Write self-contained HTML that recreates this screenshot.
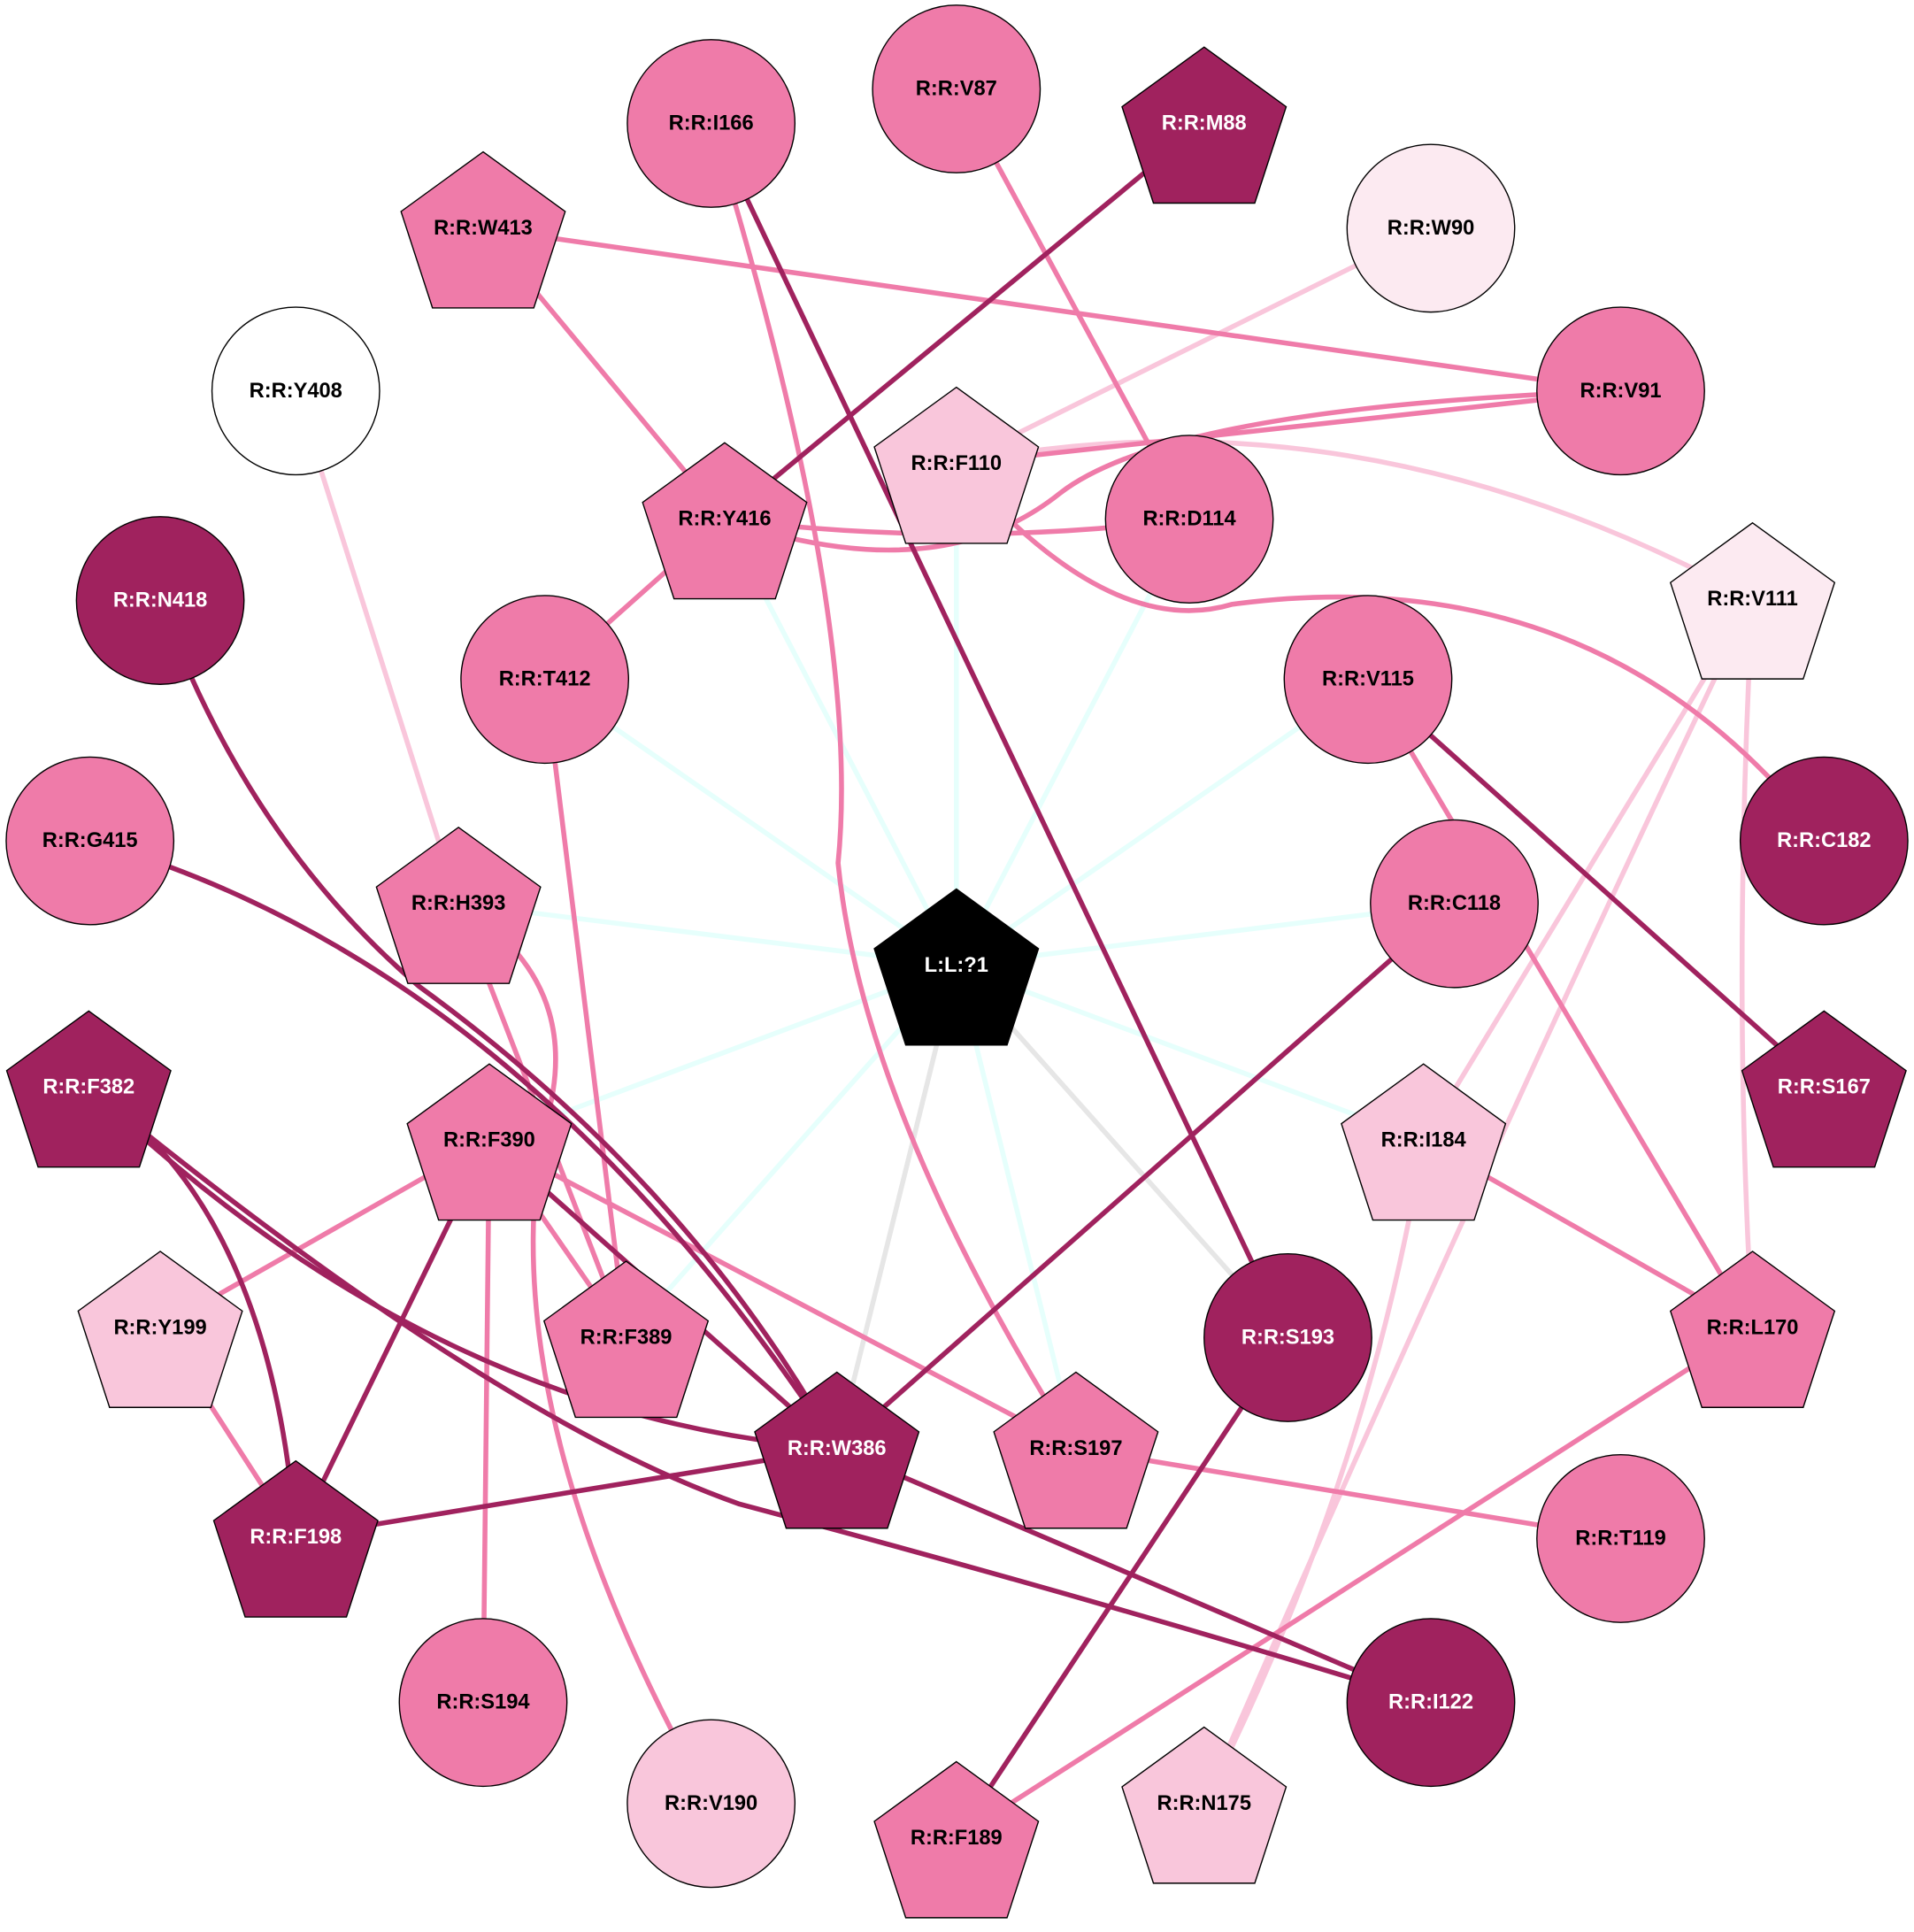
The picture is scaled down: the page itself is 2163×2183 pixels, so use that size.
<!DOCTYPE html>
<html><head><meta charset="utf-8"><style>html,body{margin:0;padding:0;background:#fff}svg{display:block}</style></head><body>
<svg width="2163" height="2183" viewBox="0 0 1553 1567" xmlns="http://www.w3.org/2000/svg" xmlns:xlink="http://www.w3.org/1999/xlink">
<defs>
<style>
text{font-family:"Liberation Sans",sans-serif;font-weight:bold;font-size:17px;text-anchor:middle;dominant-baseline:central}
.c{stroke:#000;stroke-width:1}
path,line{fill:none;stroke-width:4}
.cy{stroke:#E6FFFC;stroke-width:4}
.g{stroke:#E6E6E6}
.d{stroke:#A0225E}
.m{stroke:#EF7BA9}
.l{stroke:#F9C6DB}
</style>
<polygon id="p" points="0,-66 66.6,-17.6 41.1,60.6 -41.1,60.6 -66.6,-17.6" stroke="#000" stroke-width="1"/>
</defs>
<g class="cy">
<line x1="776" y1="783" x2="776" y2="376"/>
<line x1="776" y1="783" x2="588" y2="421"/>
<line x1="776" y1="783" x2="965" y2="421"/>
<line x1="776" y1="783" x2="442" y2="551"/>
<line x1="776" y1="783" x2="1110" y2="551"/>
<line x1="776" y1="783" x2="372" y2="733"/>
<line x1="776" y1="783" x2="1180" y2="733"/>
<line x1="776" y1="783" x2="397" y2="925"/>
<line x1="776" y1="783" x2="1155" y2="925"/>
<line x1="776" y1="783" x2="508" y2="1085"/>
<line x1="776" y1="783" x2="873" y2="1175"/>
</g>
<line class="g" x1="776" y1="783" x2="679" y2="1175"/>
<line class="g" x1="776" y1="783" x2="1045" y2="1085"/>
<line class="l" x1="1161" y1="185" x2="776" y2="376"/>
<path class="l" d="M776 376 Q1100 310 1422 486"/>
<line class="l" x1="240" y1="317" x2="372" y2="733"/>
<line class="l" x1="1422" y1="486" x2="1155" y2="925"/>
<path class="l" d="M1422 486 Q1200 950 977 1463"/>
<path class="l" d="M1422 486 Q1405 800 1422 1077"/>
<path class="l" d="M1155 925 Q1110 1200 977 1463"/>
<line class="m" x1="392" y1="185" x2="1315" y2="317"/>
<line class="m" x1="392" y1="185" x2="588" y2="421"/>
<line class="m" x1="776" y1="72" x2="965" y2="421"/>
<line class="m" x1="776" y1="376" x2="1315" y2="317"/>
<path class="m" d="M588 421 Q760 480 860 400 Q950 330 1315 317"/>
<path class="m" d="M588 421 Q780 445 965 421"/>
<path class="m" d="M776 376 Q900 520 1000 490 Q1300 450 1480 682"/>
<line class="m" x1="588" y1="421" x2="442" y2="551"/>
<path class="m" d="M577 100 Q700 500 680 700 Q700 900 873 1175"/>
<line class="m" x1="442" y1="551" x2="508" y2="1085"/>
<line class="m" x1="372" y1="733" x2="508" y2="1085"/>
<path class="m" d="M372 733 Q480 800 440 920 Q400 1150 577 1463"/>
<line class="m" x1="1110" y1="551" x2="1422" y2="1077"/>
<line class="m" x1="397" y1="925" x2="130" y2="1077"/>
<line class="m" x1="397" y1="925" x2="392" y2="1381"/>
<line class="m" x1="397" y1="925" x2="873" y2="1175"/>
<line class="m" x1="397" y1="925" x2="508" y2="1085"/>
<line class="m" x1="130" y1="1077" x2="240" y2="1247"/>
<line class="m" x1="873" y1="1175" x2="1315" y2="1248"/>
<line class="m" x1="1422" y1="1077" x2="776" y2="1491"/>
<line class="m" x1="1155" y1="925" x2="1422" y2="1077"/>
<line class="d" x1="977" y1="100" x2="588" y2="421"/>
<line class="d" x1="577" y1="100" x2="1045" y2="1085"/>
<path class="d" d="M130 487 Q200 680 340 800 Q560 960 679 1175"/>
<path class="d" d="M73 682 Q420 780 679 1175"/>
<line class="d" x1="1110" y1="551" x2="1480" y2="882"/>
<line class="d" x1="1180" y1="733" x2="679" y2="1175"/>
<path class="d" d="M72 882 Q350 1150 679 1175"/>
<path class="d" d="M72 882 Q400 1150 600 1220 Q900 1300 1161 1381"/>
<path class="d" d="M72 882 Q220 980 240 1247"/>
<line class="d" x1="397" y1="925" x2="240" y2="1247"/>
<line class="d" x1="397" y1="925" x2="679" y2="1175"/>
<line class="d" x1="679" y1="1175" x2="240" y2="1247"/>
<line class="d" x1="679" y1="1175" x2="1161" y2="1381"/>
<line class="d" x1="1045" y1="1085" x2="776" y2="1491"/>
<g class="c">
<circle cx="577" cy="100" r="68" fill="#EF7BA9"/>
<circle cx="776" cy="72" r="68" fill="#EF7BA9"/>
<circle cx="1161" cy="185" r="68" fill="#FCEAF1"/>
<circle cx="240" cy="317" r="68" fill="#FFFFFF"/>
<circle cx="1315" cy="317" r="68" fill="#EF7BA9"/>
<circle cx="965" cy="421" r="68" fill="#EF7BA9"/>
<circle cx="130" cy="487" r="68" fill="#A0225E"/>
<circle cx="442" cy="551" r="68" fill="#EF7BA9"/>
<circle cx="1110" cy="551" r="68" fill="#EF7BA9"/>
<circle cx="73" cy="682" r="68" fill="#EF7BA9"/>
<circle cx="1480" cy="682" r="68" fill="#A0225E"/>
<circle cx="1180" cy="733" r="68" fill="#EF7BA9"/>
<circle cx="1045" cy="1085" r="68" fill="#A0225E"/>
<circle cx="1315" cy="1248" r="68" fill="#EF7BA9"/>
<circle cx="392" cy="1381" r="68" fill="#EF7BA9"/>
<circle cx="1161" cy="1381" r="68" fill="#A0225E"/>
<circle cx="577" cy="1463" r="68" fill="#F9C6DB"/>
</g>
<use xlink:href="#p" href="#p" transform="translate(977,104)" fill="#A0225E"/>
<use xlink:href="#p" href="#p" transform="translate(392,189)" fill="#EF7BA9"/>
<use xlink:href="#p" href="#p" transform="translate(776,380)" fill="#F9C6DB"/>
<use xlink:href="#p" href="#p" transform="translate(588,425)" fill="#EF7BA9"/>
<use xlink:href="#p" href="#p" transform="translate(1422,490)" fill="#FCEAF1"/>
<use xlink:href="#p" href="#p" transform="translate(372,737)" fill="#EF7BA9"/>
<use xlink:href="#p" href="#p" transform="translate(776,787)" fill="#000000"/>
<use xlink:href="#p" href="#p" transform="translate(72,886)" fill="#A0225E"/>
<use xlink:href="#p" href="#p" transform="translate(1480,886)" fill="#A0225E"/>
<use xlink:href="#p" href="#p" transform="translate(397,929)" fill="#EF7BA9"/>
<use xlink:href="#p" href="#p" transform="translate(1155,929)" fill="#F9C6DB"/>
<use xlink:href="#p" href="#p" transform="translate(130,1081)" fill="#F9C6DB"/>
<use xlink:href="#p" href="#p" transform="translate(508,1089)" fill="#EF7BA9"/>
<use xlink:href="#p" href="#p" transform="translate(1422,1081)" fill="#EF7BA9"/>
<use xlink:href="#p" href="#p" transform="translate(679,1179)" fill="#A0225E"/>
<use xlink:href="#p" href="#p" transform="translate(873,1179)" fill="#EF7BA9"/>
<use xlink:href="#p" href="#p" transform="translate(240,1251)" fill="#A0225E"/>
<use xlink:href="#p" href="#p" transform="translate(776,1495)" fill="#EF7BA9"/>
<use xlink:href="#p" href="#p" transform="translate(977,1467)" fill="#F9C6DB"/>
<g>
<text x="577" y="100">R:R:I166</text>
<text x="776" y="72">R:R:V87</text>
<text x="977" y="100" fill="#fff">R:R:M88</text>
<text x="392" y="185">R:R:W413</text>
<text x="1161" y="185">R:R:W90</text>
<text x="240" y="317">R:R:Y408</text>
<text x="1315" y="317">R:R:V91</text>
<text x="776" y="376">R:R:F110</text>
<text x="588" y="421">R:R:Y416</text>
<text x="965" y="421">R:R:D114</text>
<text x="130" y="487" fill="#fff">R:R:N418</text>
<text x="1422" y="486">R:R:V111</text>
<text x="442" y="551">R:R:T412</text>
<text x="1110" y="551">R:R:V115</text>
<text x="73" y="682">R:R:G415</text>
<text x="1480" y="682" fill="#fff">R:R:C182</text>
<text x="372" y="733">R:R:H393</text>
<text x="1180" y="733">R:R:C118</text>
<text x="776" y="783" fill="#fff">L:L:?1</text>
<text x="72" y="882" fill="#fff">R:R:F382</text>
<text x="1480" y="882" fill="#fff">R:R:S167</text>
<text x="397" y="925">R:R:F390</text>
<text x="1155" y="925">R:R:I184</text>
<text x="130" y="1077">R:R:Y199</text>
<text x="508" y="1085">R:R:F389</text>
<text x="1045" y="1085" fill="#fff">R:R:S193</text>
<text x="1422" y="1077">R:R:L170</text>
<text x="679" y="1175" fill="#fff">R:R:W386</text>
<text x="873" y="1175">R:R:S197</text>
<text x="240" y="1247" fill="#fff">R:R:F198</text>
<text x="1315" y="1248">R:R:T119</text>
<text x="392" y="1381">R:R:S194</text>
<text x="1161" y="1381" fill="#fff">R:R:I122</text>
<text x="577" y="1463">R:R:V190</text>
<text x="776" y="1491">R:R:F189</text>
<text x="977" y="1463">R:R:N175</text>
</g>
</svg>
</body></html>
